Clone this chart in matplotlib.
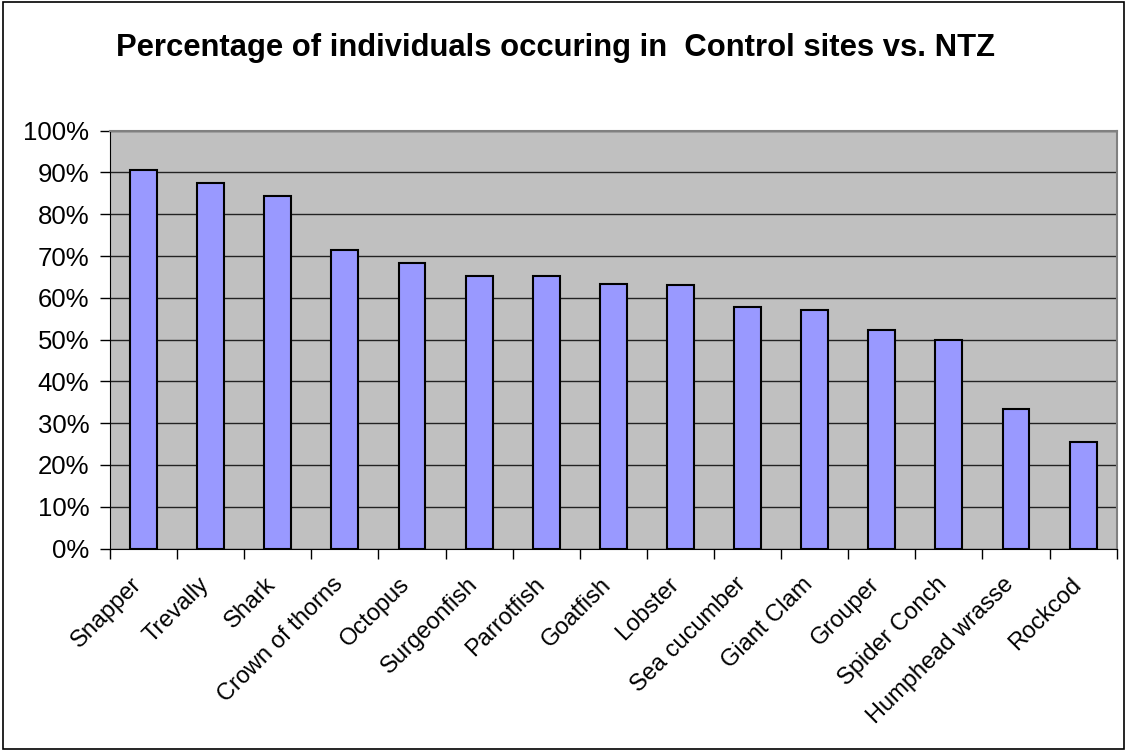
import matplotlib
matplotlib.use("Agg")
import matplotlib.pyplot as plt
from matplotlib.patches import Rectangle
from matplotlib.ticker import FuncFormatter, MultipleLocator
from matplotlib.transforms import ScaledTranslation

categories = ["Snapper", "Trevally", "Shark", "Crown of thorns", "Octopus",
              "Surgeonfish", "Parrotfish", "Goatfish", "Lobster", "Sea cucumber",
              "Giant Clam", "Grouper", "Spider Conch", "Humphead wrasse", "Rockcod"]
values = [0.905, 0.874, 0.843, 0.714, 0.684, 0.652, 0.652, 0.634, 0.630,
          0.577, 0.572, 0.523, 0.500, 0.333, 0.255]
title = "Percentage of individuals occuring in  Control sites vs. NTZ"

plt.rcParams['font.family'] = ['Liberation Sans', 'DejaVu Sans']

fig = plt.figure(figsize=(11.28, 7.51), dpi=100)
ax = fig.add_axes([110/1128, 1-548.5/751, (1116.7-110)/1128, (548.5-130.7)/751])

x = list(range(len(categories)))
ax.bar(x, values, width=0.4, color="#9999FF", edgecolor="black", linewidth=1.5, zorder=3)

ax.set_facecolor("#C0C0C0")
ax.set_xlim(-0.5, len(categories) - 0.5)
ax.set_ylim(0, 1.0)
ax.yaxis.set_major_locator(MultipleLocator(0.1))
ax.yaxis.set_major_formatter(FuncFormatter(lambda v, p: f"{v*100:.0f}%"))
ax.grid(axis="y", color="#222222", linewidth=1.0, zorder=1)
ax.set_axisbelow(True)

ax.set_xticks([i - 0.5 for i in range(len(categories) + 1)])
ax.set_xticklabels([])
ax.set_xticks(x, minor=True)
ax.set_xticklabels(categories, minor=True, rotation=45, ha="right", va="top",
                   rotation_mode="anchor", fontsize=17)
ax.tick_params(axis="x", which="minor", length=0, pad=10)
ax.tick_params(axis="x", which="major", length=7, width=1, direction="out", color="black")
ax.tick_params(axis="y", length=7, width=1, direction="out", labelsize=18.5, pad=8)

off = ScaledTranslation(-0.13, -0.11, fig.dpi_scale_trans)
for lab in ax.get_xticklabels(minor=True):
    lab.set_transform(lab.get_transform() + off)

for s in ["top", "right"]:
    ax.spines[s].set_color("#808080")
    ax.spines[s].set_linewidth(1.5)
ax.spines["left"].set_color("black")
ax.spines["bottom"].set_color("black")

fig.text(555/1128, 1-48/751, title, ha="center", va="center",
         fontsize=22.3, fontweight="bold")

fig.patches.append(Rectangle((3/1128, 2/751), 1121/1128, 747/751, transform=fig.transFigure,
                             fill=False, edgecolor="black", linewidth=1.2))

fig.savefig("out.png", dpi=100)
